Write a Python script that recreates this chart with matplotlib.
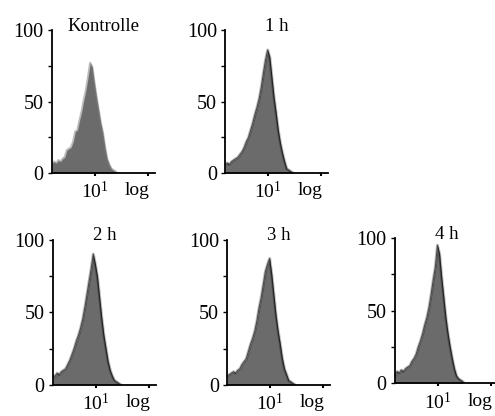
import matplotlib
matplotlib.use('Agg')
import matplotlib.pyplot as plt
import numpy as np

plt.rcParams['font.family'] = 'Liberation Serif'
plt.rcParams['mathtext.fontset'] = 'custom'
plt.rcParams['mathtext.rm'] = 'Liberation Serif'

# log10 of fluorescence, bin centres
log_fi = [0.19, 0.23, 0.27, 0.31, 0.35, 0.39, 0.43, 0.47, 0.51, 0.55, 0.59,
          0.63, 0.67, 0.71, 0.75, 0.79, 0.83, 0.87, 0.91, 0.95, 0.99, 1.03,
          1.07, 1.11, 1.15, 1.19, 1.23, 1.27, 1.31, 1.35, 1.39, 1.43, 1.47]

kontrolle = [7, 8, 7, 9, 8, 10, 11, 16, 17, 18, 22, 29, 30, 37, 43, 51, 58,
             67, 77, 74, 63, 53, 44, 35, 28, 18, 10, 6, 3, 2, 1, 0, 0]
h1 = [6, 7, 6, 8, 9, 10, 11, 13, 15, 18, 22, 25, 30, 35, 41, 46, 52,
      60, 70, 79, 86, 81, 67, 53, 42, 30, 21, 14, 8, 3, 2, 1, 0]
h2 = [6, 6, 8, 7, 9, 10, 11, 14, 17, 21, 25, 30, 34, 39, 45, 53, 62,
      71, 80, 90, 83, 74, 60, 46, 34, 25, 16, 10, 6, 3, 2, 1, 0]
h3 = [6, 7, 8, 9, 8, 10, 11, 14, 16, 18, 23, 28, 32, 37, 44, 53, 60,
      69, 78, 83, 87, 76, 62, 48, 37, 28, 18, 11, 7, 3, 2, 1, 0]
h4 = [5, 8, 7, 9, 8, 10, 11, 12, 15, 17, 20, 25, 29, 34, 40, 45, 52,
      61, 71, 80, 95, 89, 73, 59, 45, 34, 25, 17, 10, 5, 3, 2, 1]

titles = ['Kontrolle', '1 h', '2 h', '3 h', '4 h']
series = [kontrolle, h1, h2, h3, h4]

# axes rectangles in figure fraction
rects = [[0.105, 0.584, 0.208, 0.344],
         [0.455, 0.584, 0.208, 0.344],
         [0.107, 0.075, 0.208, 0.349],
         [0.459, 0.075, 0.208, 0.349],
         [0.798, 0.079, 0.208, 0.349]]

fig = plt.figure(figsize=(4.95, 4.16), dpi=100)
x = 10 ** np.array(log_fi)

for i in range(5):
    ax = fig.add_axes(rects[i])
    y = np.array(series[i])
    ax.fill_between(x, y, 0, color='#6b6b6b', lw=0)
    if i == 0:
        # soft edge
        ax.plot(x, y, color='#7a7a7a', lw=1.6, alpha=0.5)
    else:
        # fuzzy dark outline
        ax.plot(x, y, color='black', lw=2.2, alpha=0.25)
        ax.plot(x, y, color='black', lw=0.8, alpha=0.6)
    ax.set_xscale('log')
    ax.set_xlim(10 ** 0.19, 10 ** 2.13)
    ax.set_ylim(0, 100)
    for s in ['top', 'right']:
        ax.spines[s].set_visible(False)
    ax.spines['left'].set_linewidth(1.3)
    ax.spines['bottom'].set_linewidth(1.3)
    ax.set_yticks([0, 50, 100])
    ax.set_yticks([25, 75], minor=True)
    ax.set_xticks([10, 100])
    ax.set_xticklabels([r'$\mathregular{10^1}$', ''])
    ax.xaxis.set_minor_locator(plt.NullLocator())
    ax.tick_params(axis='y', which='both', direction='out', length=3, width=1, labelsize=14.5, pad=3)
    ax.tick_params(axis='x', which='both', direction='out', length=2, width=1.5, labelsize=14, pad=4)
    ax.text(0.5, 0.995, titles[i], transform=ax.transAxes, fontsize=13.5,
            ha='center', va='baseline')
    ax.text(10 ** 1.79, -15.5, 'log', fontsize=14, ha='center', va='baseline')

fig.savefig('out.png', dpi=100)
